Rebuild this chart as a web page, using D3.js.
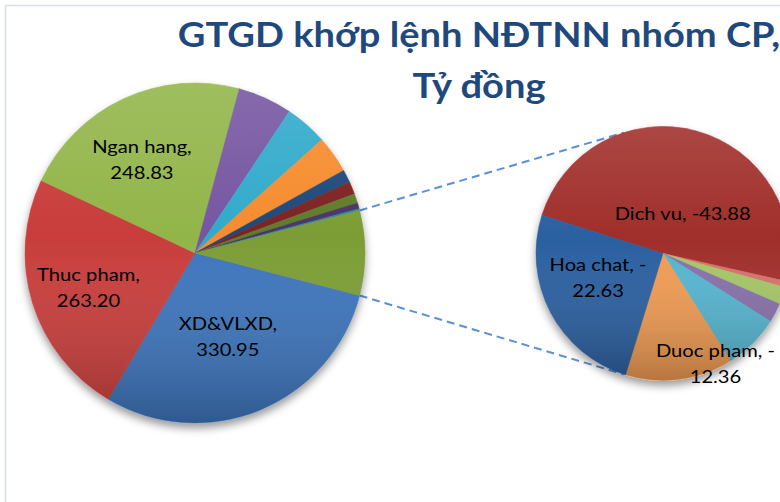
<!DOCTYPE html>
<html>
<head>
<meta charset="utf-8">
<script src="https://cdn.jsdelivr.net/npm/d3@7"></script>
<style>
  body { margin: 0; background: #fff; }
  svg { display: block; }
</style>
</head>
<body>
<script>
// main pie (positive net buying), clockwise after the "other" slice
const mainNames = ["XD&VLXD", "Thuc pham", "Ngan hang", "Nhom 4", "Nhom 5", "Nhom 6", "Nhom 7", "Nhom 8", "Nhom 9", "Nhom 10", "Nhom 11"];
const mainValues = [330.95, 263.20, 248.83, 57.8, 45.3, 39.7, 13.7, 13.4, 10.2, 6.2, 1.9];
const mainColors = ["#3d74bd", "#c83e3a", "#92b54a", "#7656a2", "#32aacb", "#f68c2f", "#1f4a7c", "#7d2221", "#5e7c2b", "#4a3468", "#2e86a8"];
const otherColor = "#7c9d36";

// second pie (net selling), clockwise starting with Dich vu
const subNames = ["Dich vu", "Nhom a", "Nhom b", "Nhom c", "Nhom d", "Duoc pham", "Hoa chat"];
const subValues = [-43.88, -0.7, -2.0, -2.2, -6.4, -12.36, -22.63];
const subColors = ["#a02d2a", "#d7706c", "#a5c666", "#8770aa", "#55b5d0", "#f09b52", "#2c5fa0"];

const titleLines = ["GTGD khớp lệnh NĐTNN nhóm CP,", "Tỷ đồng"];

const W = 780, H = 502;
const main = {cx: 195, cy: 253, r: 170};
const sub = {cx: 663, cy: 253.5, r: 127};
const rad = Math.PI / 180;
const textStretch = 1.12; // the original font runs wider than Lato

// label placement (polar, relative to each pie)
const labelLayout = {
  "XD&VLXD": {a: 158.6, r: 0.53, wrap: true},
  "Thuc pham": {a: 251.7, r: 0.66, wrap: true},
  "Ngan hang": {a: 330.3, r: 0.63, wrap: true},
  "Dich vu": {a: 26.3, r: 0.35, wrap: false},
  "Hoa chat": {a: 249.2, r: 0.547, wrap: true},
  "Duoc pham": {a: 154.6, r: 0.963, wrap: true}
};

const svg = d3.select("body").append("svg")
  .attr("width", W)
  .attr("height", H);

const defs = svg.append("defs");
const grad = defs.append("linearGradient")
  .attr("id", "shade")
  .attr("x1", 0).attr("y1", 0).attr("x2", 0).attr("y2", 1);
grad.append("stop").attr("offset", "0%").attr("stop-color", "#fff").attr("stop-opacity", 0.12);
grad.append("stop").attr("offset", "45%").attr("stop-color", "#fff").attr("stop-opacity", 0);
grad.append("stop").attr("offset", "100%").attr("stop-color", "#000").attr("stop-opacity", 0.24);

const shadow = defs.append("filter")
  .attr("id", "shadow")
  .attr("x", "-20%").attr("y", "-20%")
  .attr("width", "140%").attr("height", "140%");
shadow.append("feDropShadow")
  .attr("dx", 0).attr("dy", 5)
  .attr("stdDeviation", 4)
  .attr("flood-color", "#000")
  .attr("flood-opacity", 0.4);

// chart frame
svg.append("rect")
  .attr("x", 5.5).attr("y", 5.5)
  .attr("width", W).attr("height", H)
  .attr("fill", "none")
  .attr("stroke", "#d7e0ee")
  .attr("stroke-width", 1.5);

// title
const title = svg.append("text")
  .attr("transform", "translate(479,0) scale(" + textStretch + ",1)")
  .attr("text-anchor", "middle")
  .attr("font-family", "Lato, 'Open Sans', sans-serif")
  .attr("font-weight", 700)
  .attr("font-size", 34)
  .attr("fill", "#1f497d");
title.selectAll("tspan")
  .data(titleLines)
  .join("tspan")
  .attr("x", 0)
  .attr("y", (d, i) => 47.5 + i * 50.5)
  .text(d => d);

// data
const subAbs = subValues.map(Math.abs);
const otherValue = d3.sum(subAbs);
const mainData = mainNames.map((n, i) => ({name: n, value: mainValues[i], color: mainColors[i]}))
  .concat([{name: "Khac", value: otherValue, color: otherColor}]);
const subData = subNames.map((n, i) => ({name: n, value: subValues[i], color: subColors[i]}));

const mainTotal = d3.sum(mainData, d => d.value);
const otherAngle = otherValue / mainTotal * 2 * Math.PI;
const mainStart = Math.PI / 2 + otherAngle / 2;

const mainArcs = d3.pie().sort(null).value(d => d.value)
  .startAngle(mainStart).endAngle(mainStart + 2 * Math.PI)(mainData);
const subStart = -72.5 * rad;
const subArcs = d3.pie().sort(null).value(d => Math.abs(d.value))
  .startAngle(subStart).endAngle(subStart + 2 * Math.PI)(subData);

function polar(p, a, r) {
  return [p.cx + r * Math.sin(a), p.cy - r * Math.cos(a)];
}

// connector lines from the "other" slice to the second pie
const otherArc = mainArcs[mainArcs.length - 1];
const connectors = [
  [polar(main, otherArc.startAngle, main.r), polar(sub, -18 * rad, sub.r)],
  [polar(main, otherArc.endAngle, main.r), polar(sub, 198 * rad, sub.r)]
];
svg.append("g")
  .selectAll("line")
  .data(connectors)
  .join("line")
  .attr("x1", d => d[0][0]).attr("y1", d => d[0][1])
  .attr("x2", d => d[1][0]).attr("y2", d => d[1][1])
  .attr("stroke", "#5b8fd8")
  .attr("stroke-width", 2)
  .attr("stroke-dasharray", "8,5");

function drawPie(p, arcs) {
  const arc = d3.arc().innerRadius(0).outerRadius(p.r);
  const g = svg.append("g")
    .attr("transform", "translate(" + p.cx + "," + p.cy + ")");
  const slices = g.append("g").attr("filter", "url(#shadow)");
  slices.selectAll("path")
    .data(arcs)
    .join("path")
    .attr("d", arc)
    .attr("fill", d => d.data.color)
    .attr("stroke", d => d.data.color)
    .attr("stroke-width", 0.5);
  // excel-like shading over the whole pie
  g.append("circle")
    .attr("r", p.r)
    .attr("fill", "url(#shade)");

  const labels = g.append("g")
    .attr("font-family", "Lato, 'Open Sans', sans-serif")
    .attr("font-size", 18)
    .attr("fill", "#000")
    .attr("text-anchor", "middle");
  arcs.filter(d => labelLayout[d.data.name]).forEach(d => {
    const L = labelLayout[d.data.name];
    const [x, y] = polar({cx: 0, cy: 0}, L.a * rad, L.r * p.r);
    const v = d.data.value;
    const sign = v < 0 ? " -" : "";
    let lines;
    if (L.wrap) lines = [d.data.name + "," + sign, Math.abs(v).toFixed(2)];
    else lines = [d.data.name + ", " + v.toFixed(2)];
    labels.append("text")
      .attr("transform", "translate(" + x + "," + y + ") scale(" + textStretch + ",1)")
      .selectAll("tspan")
      .data(lines)
      .join("tspan")
      .attr("x", 0)
      .attr("y", (t, i) => (i - (lines.length - 1) / 2) * 26 + 6)
      .text(t => t);
  });
}

drawPie(main, mainArcs);
drawPie(sub, subArcs);
</script>
</body>
</html>
